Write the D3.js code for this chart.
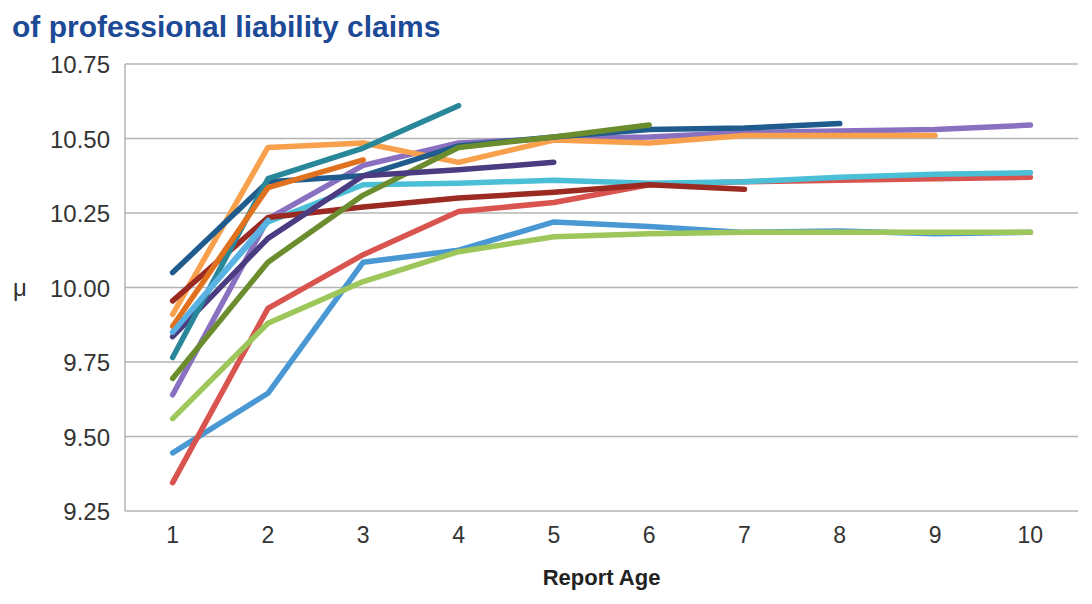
<!DOCTYPE html>
<html>
<head>
<meta charset="utf-8">
<script src="https://cdn.jsdelivr.net/npm/d3@7"></script>
<style>
  body { margin: 0; background: #fff; }
  text { font-family: "Liberation Sans", Arial, Helvetica, sans-serif; }
</style>
</head>
<body>
<svg width="1092" height="604"></svg>
<script>

// report ages on the x axis
var ages = [1, 2, 3, 4, 5, 6, 7, 8, 9, 10];
var yTicks = [9.25, 9.50, 9.75, 10.00, 10.25, 10.50, 10.75];

// mu by report age, one array per series (later series have fewer ages)
var s1  = [9.445, 9.645, 10.085, 10.125, 10.22, 10.205, 10.185, 10.19, 10.18, 10.185];
var s2  = [9.345, 9.93, 10.11, 10.255, 10.285, 10.345, 10.355, 10.36, 10.365, 10.37];
var s3  = [9.56, 9.88, 10.02, 10.12, 10.17, 10.18, 10.185, 10.185, 10.185, 10.185];
var s4  = [9.64, 10.23, 10.41, 10.485, 10.50, 10.505, 10.52, 10.525, 10.53, 10.545];
var s5  = [9.85, 10.22, 10.345, 10.35, 10.36, 10.35, 10.355, 10.37, 10.38, 10.385];
var s6  = [9.91, 10.47, 10.485, 10.42, 10.495, 10.485, 10.51, 10.51, 10.51];
var s7  = [10.05, 10.355, 10.375, 10.475, 10.505, 10.53, 10.535, 10.55];
var s8  = [9.955, 10.235, 10.27, 10.30, 10.32, 10.345, 10.33];
var s9  = [9.695, 10.085, 10.31, 10.47, 10.505, 10.545];
var s10 = [9.835, 10.165, 10.375, 10.395, 10.42];
var s11 = [9.765, 10.365, 10.468, 10.61];
var s12 = [9.87, 10.335, 10.428];
var s13 = [9.85, 10.225];

var seriesList = [s1, s2, s3, s4, s5, s6, s7, s8, s9, s10, s11, s12, s13];
var colors = ["#4a98d3", "#d9534f", "#9dc75a", "#8a70c0", "#4bbfd6", "#f8a04c",
              "#1f5b8c", "#9b2b22", "#6b8d2e", "#4b3b80", "#29879a", "#e0721f",
              "#5ab2e4"];

var svg = d3.select("svg");

// plot box (don't call these top/left, window.top is read-only)
var plotL = 125, plotR = 1078, plotT = 64, plotB = 511;

var x = d3.scalePoint()
    .domain(ages)
    .range([plotL, plotR])
    .padding(0.5);

var y = d3.scaleLinear()
    .domain([9.25, 10.75])
    .range([plotB, plotT]);

// title (second line of the figure caption)
svg.append("text")
    .attr("x", 12)
    .attr("y", 37)
    .attr("font-size", "30px")
    .attr("font-weight", "bold")
    .attr("fill", "#1d4a96")
    .text("of professional liability claims");

// gridlines
svg.append("g")
    .selectAll("line")
    .data(yTicks)
    .enter().append("line")
      .attr("x1", plotL)
      .attr("x2", plotR)
      .attr("y1", function(d) { return y(d); })
      .attr("y2", function(d) { return y(d); })
      .attr("stroke", "#b4b4b4")
      .attr("stroke-width", 1.5);

// left axis line
svg.append("line")
    .attr("x1", plotL).attr("x2", plotL)
    .attr("y1", plotT).attr("y2", plotB)
    .attr("stroke", "#b4b4b4")
    .attr("stroke-width", 1.5);

// y tick labels
svg.append("g")
    .selectAll("text")
    .data(yTicks)
    .enter().append("text")
      .attr("x", 110)
      .attr("y", function(d) { return y(d) + 9; })
      .attr("text-anchor", "end")
      .attr("font-size", "24px")
      .attr("fill", "#333")
      .text(function(d) { return d3.format(".2f")(d); });

// x tick labels
svg.append("g")
    .selectAll("text")
    .data(ages)
    .enter().append("text")
      .attr("x", function(d) { return x(d); })
      .attr("y", 543)
      .attr("text-anchor", "middle")
      .attr("font-size", "23px")
      .attr("fill", "#333")
      .text(function(d) { return d; });

// axis titles
svg.append("text")
    .attr("x", 20)
    .attr("y", 296)
    .attr("text-anchor", "middle")
    .attr("font-size", "24px")
    .attr("fill", "#333")
    .text("μ");

svg.append("text")
    .attr("x", (plotL + plotR) / 2)
    .attr("y", 585)
    .attr("text-anchor", "middle")
    .attr("font-size", "22px")
    .attr("font-weight", "bold")
    .attr("fill", "#222")
    .text("Report Age");

var line = d3.line()
    .x(function(d, i) { return x(ages[i]); })
    .y(function(d) { return y(d); });

svg.append("g")
    .attr("class", "lines")
    .selectAll("path")
    .data(seriesList)
    .enter().append("path")
      .attr("d", function(d) { return line(d); })
      .attr("fill", "none")
      .attr("stroke", function(d, i) { return colors[i]; })
      .attr("stroke-width", 5.5)
      .attr("stroke-linecap", "round")
      .attr("stroke-linejoin", "round");

</script>
</body>
</html>
